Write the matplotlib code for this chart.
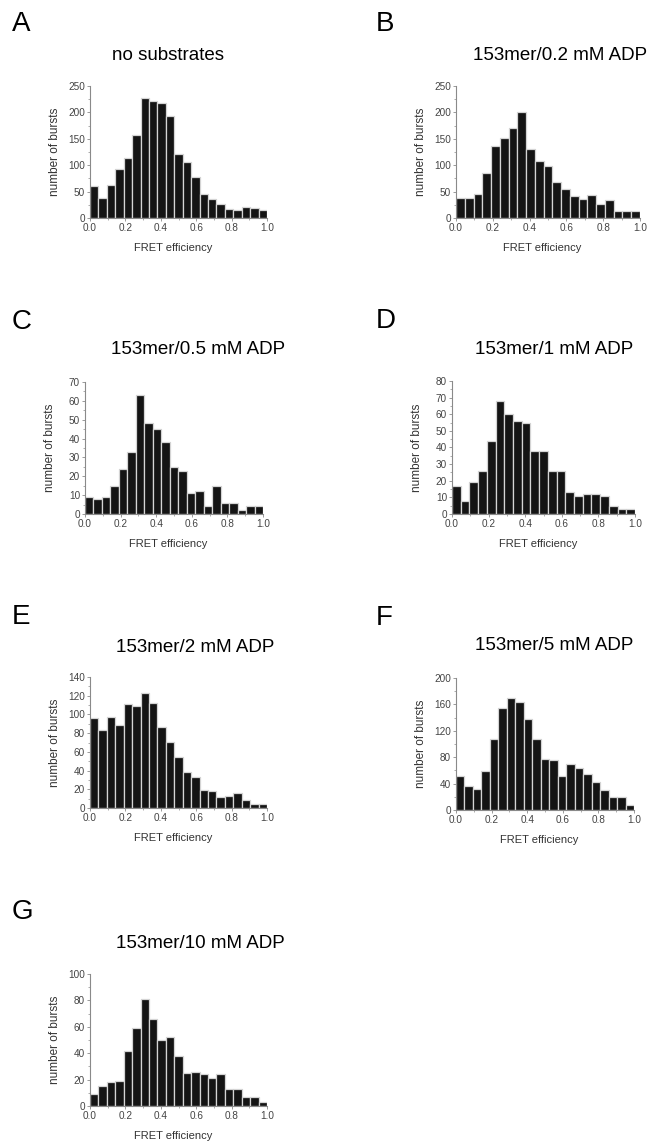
import matplotlib as mpl
mpl.use("Agg")
import matplotlib.pyplot as plt
import numpy as np
from matplotlib.ticker import MultipleLocator

plt.rcParams["font.family"] = ["Liberation Sans", "DejaVu Sans"]

# bar heights, 21 bins over FRET efficiency 0..1
no_substrates = [60, 37, 62, 92, 113, 157, 228, 221, 217, 194, 122, 107, 77, 45, 36, 27, 17, 15, 20, 19, 15]
adp_0_2 = [38, 37, 46, 85, 136, 152, 170, 200, 131, 108, 98, 68, 55, 41, 36, 44, 27, 35, 13, 13, 13]
adp_0_5 = [9, 8, 9, 15, 24, 33, 63, 48, 45, 38, 25, 23, 11, 12, 4, 15, 6, 6, 2, 4, 4]
adp_1 = [17, 8, 19, 26, 44, 68, 60, 56, 55, 38, 38, 26, 26, 13, 11, 12, 12, 11, 5, 3, 3]
adp_2 = [96, 83, 97, 89, 111, 109, 123, 112, 87, 71, 54, 39, 33, 19, 18, 12, 13, 16, 9, 4, 4]
adp_5 = [52, 36, 32, 59, 107, 154, 169, 163, 138, 108, 77, 76, 51, 69, 63, 55, 43, 31, 20, 19, 7]
adp_10 = [9, 15, 18, 19, 42, 59, 81, 66, 50, 52, 38, 25, 26, 24, 21, 24, 13, 13, 7, 7, 3]

letters = ["A", "B", "C", "D", "E", "F", "G"]
titles = ["no substrates", "153mer/0.2 mM ADP", "153mer/0.5 mM ADP", "153mer/1 mM ADP",
          "153mer/2 mM ADP", "153mer/5 mM ADP", "153mer/10 mM ADP"]
series = [no_substrates, adp_0_2, adp_0_5, adp_1, adp_2, adp_5, adp_10]
ymax = [250, 250, 70, 80, 140, 200, 100]
ystep = [50, 50, 10, 10, 20, 40, 20]

W, H = 651, 1146
# axes boxes in pixels: left, top, right, bottom
boxes = [(90, 86, 267, 218), (456, 86, 640, 218),
         (85, 382, 263, 514), (452, 381, 635, 514),
         (90, 677, 267, 808), (456, 678, 634, 810),
         (90, 974, 267, 1106)]
title_pos = [(168, 55), (560, 55), (198, 350), (554, 350), (195, 647), (554, 646), (200, 943)]
letter_pos = [(12, 24), (376, 24), (12, 322), (376, 321), (12, 617), (376, 618), (12, 912)]

fig = plt.figure(figsize=(W / 100, H / 100), dpi=100)
fig.patch.set_facecolor("white")

grey = "#8a8a8a"
nbins = 21
for i, vals in enumerate(series):
    l, t, r, b = boxes[i]
    ax = fig.add_axes([l / W, 1 - b / H, (r - l) / W, (b - t) / H])
    x = np.arange(nbins) / nbins
    ax.bar(x, vals, width=1 / nbins, align="edge", color="#141414",
           edgecolor="#d4d4d4", linewidth=0.9)
    ax.set_xlim(0, 1.0)
    ax.set_ylim(0, ymax[i])
    ax.xaxis.set_major_locator(MultipleLocator(0.2))
    ax.xaxis.set_minor_locator(MultipleLocator(0.1))
    ax.yaxis.set_major_locator(MultipleLocator(ystep[i]))
    ax.yaxis.set_minor_locator(MultipleLocator(ystep[i] / 2))
    ax.xaxis.set_major_formatter(mpl.ticker.FormatStrFormatter("%.1f"))
    for s in ("top", "right"):
        ax.spines[s].set_visible(False)
    for s in ("left", "bottom"):
        ax.spines[s].set_color(grey)
        ax.spines[s].set_linewidth(0.8)
    ax.tick_params(which="major", length=2.5, width=0.6, color=grey,
                   labelsize=7.2, labelcolor="#444444", pad=1)
    ax.tick_params(which="minor", length=1.5, width=0.5, color=grey)
    ax.set_xlabel("FRET efficiency", fontsize=8, color="#333333")
    ax.xaxis.set_label_coords(0.47, -25 / (b - t))
    ax.set_ylabel("number of bursts", fontsize=8.5, color="#333333")
    ax.yaxis.set_label_coords(-29 / (r - l), 0.5)

    tx, ty = title_pos[i]
    fig.text(tx / W, 1 - ty / H, titles[i], fontsize=13.5, ha="center", va="center")
    lx, ly = letter_pos[i]
    fig.text(lx / W, 1 - ly / H, letters[i], fontsize=20, ha="left", va="center")

fig.savefig("out.png", dpi=100)
